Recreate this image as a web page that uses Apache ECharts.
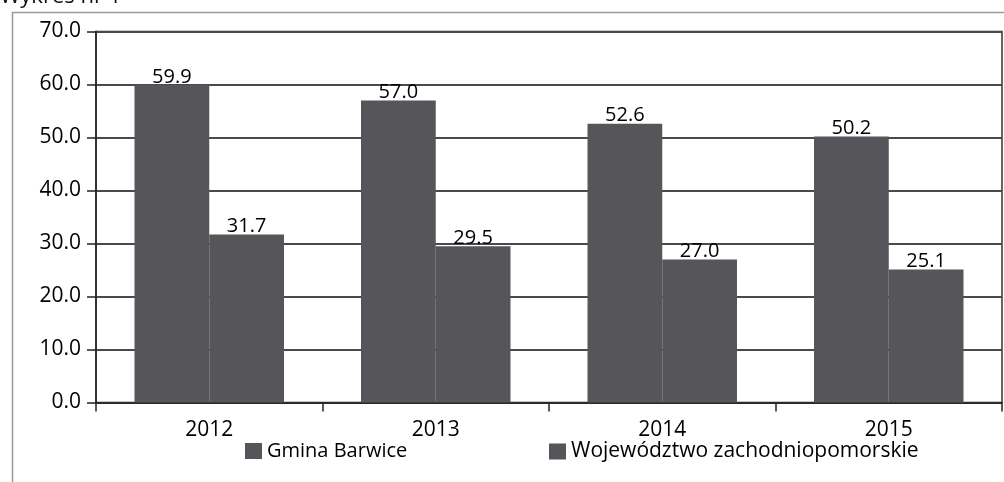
<!DOCTYPE html>
<html><head><meta charset="utf-8">
<script src="https://cdn.jsdelivr.net/npm/echarts@6/dist/echarts.min.js"></script>
<style>html,body{margin:0;padding:0;background:#fff}#c{width:1004px;height:482px}</style>
</head><body><div id="c"></div>
<script>
const categories = ['2012', '2013', '2014', '2015'];
const gminaBarwice = [59.9, 57.0, 52.6, 50.2];
const wojewodztwo = [31.7, 29.5, 27.0, 25.1];
const seriesNames = ['Gmina Barwice', 'Województwo zachodniopomorskie'];
const titleText = 'Wykres nr 1';

const FONT = '"Open Sans", "Noto Sans", sans-serif';
const barColor = '#55555a';
const chart = echarts.init(document.getElementById('c'), null, {renderer: 'canvas'});
const labelCfg = {show: true, position: 'top', distance: -2, color: '#000', fontSize: 20, fontFamily: FONT,
  formatter: p => p.value.toFixed(1)};
chart.setOption({
  animation: false,
  backgroundColor: '#fff',
  graphic: [
    {type: 'rect', shape: {x: 12.5, y: 12.5, width: 1000, height: 1000}, style: {fill: 'none', stroke: '#999', lineWidth: 1.5}, z: -1},
    {type: 'text', left: 0, top: -14, style: {text: titleText, font: '22px ' + FONT, fill: '#111'}}
  ],
  grid: {left: 96, right: 2, top: 31.5, bottom: 79.5, show: true, borderColor: '#333', borderWidth: 1.5, backgroundColor: 'transparent'},
  legend: [
    {data: [seriesNames[0]], left: 245, top: 441, padding: 0, itemWidth: 17, itemHeight: 16, itemGap: 0,
      textStyle: {fontSize: 20, fontFamily: FONT, color: '#000'}, icon: 'rect'},
    {data: [seriesNames[1]], left: 549, top: 441, padding: 0, itemWidth: 17, itemHeight: 16, itemGap: 0,
      textStyle: {fontSize: 21, fontFamily: FONT, color: '#000'}, icon: 'rect'}
  ],
  xAxis: {
    type: 'category', data: categories,
    axisLine: {lineStyle: {color: '#222', width: 1.5}},
    axisTick: {show: true, length: 9, lineStyle: {color: '#222', width: 1.5}},
    axisLabel: {fontSize: 21, fontFamily: FONT, color: '#000', margin: 17}
  },
  yAxis: {
    type: 'value', min: 0, max: 70, interval: 10,
    axisLine: {show: true, lineStyle: {color: '#222', width: 1.5}},
    axisTick: {show: true, length: 9, lineStyle: {color: '#222', width: 1.5}},
    axisLabel: {fontSize: 21, fontFamily: FONT, color: '#000', margin: 15, formatter: v => v.toFixed(1)},
    splitLine: {lineStyle: {color: '#4a4a4a', width: 1.8}}
  },
  series: [
    {name: seriesNames[0], type: 'bar', data: gminaBarwice, barGap: '0%', barCategoryGap: '34%',
      itemStyle: {color: barColor}, label: labelCfg},
    {name: seriesNames[1], type: 'bar', data: wojewodztwo,
      itemStyle: {color: barColor}, label: labelCfg}
  ]
});
</script></body></html>
